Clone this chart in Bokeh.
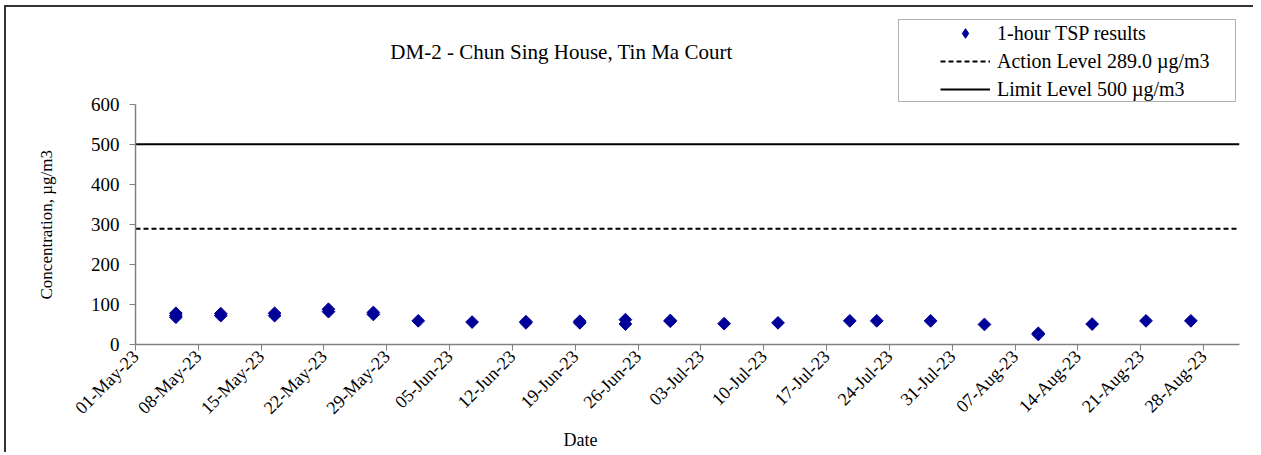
from math import pi
import pandas as pd
from bokeh.plotting import figure
from bokeh.models import (Range1d, FixedTicker, DatetimeTickFormatter, Legend,
                          LegendItem, Label, BoxAnnotation, ColumnDataSource, Title)
from bokeh.embed import file_html
from bokeh.resources import INLINE

# ---------------- data ----------------
sample_times = [
    "2023-05-05 12:00", "2023-05-05 12:00", "2023-05-05 12:00",
    "2023-05-10 12:00", "2023-05-10 12:00",
    "2023-05-16 12:00", "2023-05-16 12:00",
    "2023-05-22 12:00", "2023-05-22 12:00",
    "2023-05-27 12:00", "2023-05-27 12:00",
    "2023-06-01 12:00",
    "2023-06-07 12:00",
    "2023-06-13 12:00", "2023-06-13 12:00",
    "2023-06-19 12:00", "2023-06-19 12:00",
    "2023-06-24 14:00", "2023-06-24 14:00",
    "2023-06-29 14:00", "2023-06-29 14:00",
    "2023-07-05 14:00",
    "2023-07-11 14:00",
    "2023-07-19 14:00",
    "2023-07-22 14:00",
    "2023-07-28 14:00",
    "2023-08-03 14:00",
    "2023-08-09 14:00", "2023-08-09 14:00",
    "2023-08-15 14:00",
    "2023-08-21 14:00",
    "2023-08-26 14:00",
]
tsp_values = [
    78, 72, 68,
    77, 72,
    78, 72,
    88, 82,
    80, 75,
    59,
    56,
    57, 54,
    58, 54,
    62, 51,
    60, 58,
    52,
    54,
    59,
    59,
    59,
    50,
    28, 25,
    51,
    59,
    59,
]
action_level = 289.0
limit_level = 500
axis_start = "2023-05-01"
axis_end = "2023-09-01"
last_tick = "2023-08-28"
tick_step = "7D"
y_ticks = [0, 100, 200, 300, 400, 500, 600]
y_axis_max = 600

title_text = "DM-2 - Chun Sing House, Tin Ma Court"
x_label = "Date"
y_label = "Concentration, \u00b5g/m3"
series_labels = ["1-hour TSP results",
                 "Action Level 289.0 \u00b5g/m3",
                 "Limit Level 500 \u00b5g/m3"]

# ---------------- build ----------------
FONT = "Liberation Serif"
t0 = pd.Timestamp(axis_start)
t1 = pd.Timestamp(axis_end)

# frame spans the header area too; value axis only drawn 0..600
FRAME_H = 335          # px, frame height
AXIS_H = 239           # px, height of the 0..600 band
y_top = y_axis_max * FRAME_H / AXIS_H

src = ColumnDataSource(dict(x=pd.to_datetime(sample_times), y=tsp_values))

p = figure(width=1249, height=447, x_axis_type="datetime",
           x_range=Range1d(t0, t1), y_range=Range1d(0, y_top),
           output_backend="svg", toolbar_location=None,
           min_border_left=129, min_border_right=16,
           min_border_top=0, min_border_bottom=110)
p.styles = {"margin-left": "4px", "margin-top": "5px",
            "border-left": "2px solid #333", "border-top": "2px solid #333"}
p.outline_line_color = None
p.grid.visible = False
p.background_fill_color = "white"
p.border_fill_color = "white"

axis_gray = "#808080"
tick_ms = [ts.value // 10**6 for ts in pd.date_range(axis_start, last_tick, freq=tick_step)]
p.xaxis.ticker = FixedTicker(ticks=tick_ms)
fmt = "%d-%b-%y"
p.xaxis.formatter = DatetimeTickFormatter(milliseconds=fmt, seconds=fmt, minsec=fmt,
                                          minutes=fmt, hourmin=fmt, hours=fmt,
                                          days=fmt, months=fmt, years=fmt)
p.xaxis.major_label_orientation = pi / 4
p.yaxis.ticker = FixedTicker(ticks=y_ticks)
p.yaxis.bounds = (0, y_axis_max)

for ax in (p.xaxis, p.yaxis):
    ax.axis_line_color = axis_gray
    ax.axis_line_width = 1.5
    ax.major_tick_line_color = axis_gray
    ax.major_tick_in = 0
    ax.major_tick_out = 6
    ax.minor_tick_line_color = None
    ax.major_label_text_font = FONT
    ax.major_label_text_color = "black"

p.xaxis.major_label_text_font_size = "18px"
p.yaxis.major_label_text_font_size = "19px"
p.xaxis.major_label_standoff = 3
p.yaxis.major_label_standoff = 10

limit_r = p.line(x=[t0, t1], y=[limit_level, limit_level], line_color="black", line_width=2)
action_r = p.line(x=[t0, t1], y=[action_level, action_level], line_color="black",
                  line_width=2, line_dash="5 3")
sc = p.scatter("x", "y", source=src, marker="square", size=9, angle=pi / 4,
               fill_color="#000099", line_color="#000099")
# legend key proxy: a single non-drawable point carrying the diamond symbol
sc_key = p.scatter(x=[t0], y=[float("nan")], marker="diamond", size=11,
                   fill_color="#000099", line_color="#000099")

legend = Legend(items=[LegendItem(label=series_labels[0], renderers=[sc_key]),
                       LegendItem(label=series_labels[1], renderers=[action_r]),
                       LegendItem(label=series_labels[2], renderers=[limit_r])],
                location=(803, 241), padding=2, margin=0, spacing=4,
                glyph_width=50, glyph_height=24, label_height=20, label_standoff=7,
                label_text_font=FONT, label_text_font_size="20px",
                label_text_color="black",
                border_line_alpha=0, background_fill_alpha=0)
p.add_layout(legend)

box = BoxAnnotation(left=763, right=1100, top=325, bottom=243,
                    left_units="screen", right_units="screen",
                    top_units="screen", bottom_units="screen",
                    fill_alpha=0, line_color="black", line_width=1)
p.add_layout(box)

p.add_layout(Label(x=426, y=293, x_units="screen", y_units="screen", text=title_text,
                   text_align="center", text_baseline="middle", text_color="black",
                   text_font=FONT, text_font_size="21px"))

p.add_layout(Title(text=y_label, align="left", offset=45, standoff=60,
                   vertical_align="top",
                   text_font=FONT, text_font_size="17px", text_font_style="normal",
                   text_color="black"),
             "left")

p.add_layout(Title(text=x_label, align="left", offset=428, standoff=0,
                   text_font=FONT, text_font_size="18px", text_font_style="normal",
                   text_color="black"),
             "below")

open("out.html", "w").write(file_html(p, INLINE))
